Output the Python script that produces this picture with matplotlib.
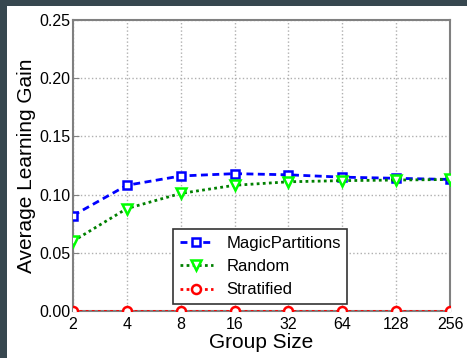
import matplotlib.pyplot as plt
from matplotlib.patches import Rectangle

plt.rcParams['font.family'] = ['Liberation Sans', 'DejaVu Sans']

# data
group_size = [2, 4, 8, 16, 32, 64, 128, 256]
magic = [0.082, 0.108, 0.116, 0.118, 0.117, 0.115, 0.114, 0.113]
random_ = [0.060, 0.088, 0.101, 0.108, 0.111, 0.112, 0.1125, 0.113]
stratified = [0, 0, 0, 0, 0, 0, 0, 0]

fig = plt.figure(figsize=(4.67, 3.58), dpi=100, facecolor='#37474f')
# white page inside the dark frame
fig.patches.append(Rectangle((7 / 467, 0), 1, 1 - 6 / 358, transform=fig.transFigure,
                             facecolor='white', edgecolor='none', zorder=-1))

ax = fig.add_axes([73 / 467, 47 / 358, 377 / 467, 291 / 358])

ax.plot(group_size, magic, color='blue', linestyle=(0, (2.5, 1.6)), linewidth=2, marker='s',
        markersize=6, markerfacecolor='white', markeredgecolor='blue', markeredgewidth=1.8,
        label='MagicPartitions', zorder=3)
ax.plot(group_size, random_, color='green', linestyle=(0, (1, 1.2)), linewidth=2, marker='v',
        markersize=6.5, markerfacecolor='white', markeredgecolor='lime', markeredgewidth=1.8,
        label='Random', zorder=3)
ax.plot(group_size, stratified, color='red', linestyle=(0, (1, 1.2)), linewidth=2, marker='o',
        markersize=6.5, markerfacecolor='white', markeredgecolor='red', markeredgewidth=1.8,
        label='Stratified', zorder=3)

ax.set_xscale('log', base=2)
ax.set_xlim(2, 256)
ax.set_xticks(group_size)
ax.set_xticklabels([str(g) for g in group_size])
ax.minorticks_off()
ax.set_ylim(0, 0.25)
ax.set_yticks([0, 0.05, 0.10, 0.15, 0.20, 0.25])
ax.set_yticklabels(['0.00', '0.05', '0.10', '0.15', '0.20', '0.25'])

ax.tick_params(direction='in', labelsize=11.5, color='#808080', length=4, pad=2)
ax.tick_params(axis='x', pad=4)
for sp in ax.spines.values():
    sp.set_color('#808080')
    sp.set_linewidth(1.5)
ax.grid(True, linestyle=':', color='#b0b0b0', linewidth=1)

ax.set_xlabel('Group Size', fontsize=15, labelpad=1)
ax.set_ylabel('Average Learning Gain', fontsize=15, labelpad=2)

leg = ax.legend(loc='lower left', bbox_to_anchor=(0.265, 0.024), borderaxespad=0,
                fontsize=12, fancybox=False, framealpha=1, handlelength=2.0)
leg.get_frame().set_edgecolor('#333333')
leg.get_frame().set_linewidth(1.2)

fig.savefig('out.png', dpi=100, facecolor=fig.get_facecolor())
